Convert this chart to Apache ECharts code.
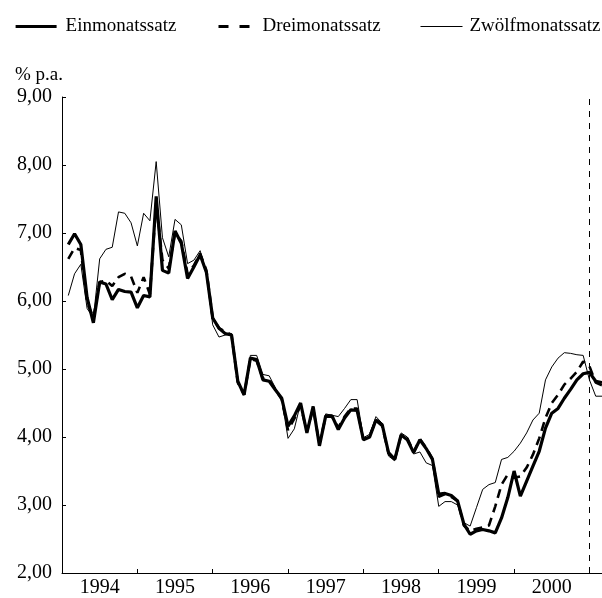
<!DOCTYPE html>
<html>
<head>
<meta charset="utf-8">
<script src="https://cdn.jsdelivr.net/npm/echarts@6/dist/echarts.min.js"></script>
<style>
  html, body { margin: 0; padding: 0; background: #fff; }
  #chart { width: 602px; height: 598px; }
</style>
</head>
<body>
<div id="chart"></div>
<script>
var chartDom = document.getElementById('chart');
var myChart = echarts.init(chartDom);
var option;

// monthly values, Jan 1994 .. Feb 2001
var years = ['1994', '1995', '1996', '1997', '1998', '1999', '2000'];
var einmonat = [
  6.83, 6.99, 6.83, 6.05, 5.68, 6.28, 6.25, 6.02, 6.17, 6.14, 6.13, 5.90,
  6.08, 6.06, 7.54, 6.45, 6.41, 7.03, 6.85, 6.33, 6.50, 6.68, 6.42, 5.75,
  5.60, 5.52, 5.50, 4.82, 4.62, 5.16, 5.14, 4.84, 4.82, 4.69, 4.57, 4.16,
  4.31, 4.50, 4.06, 4.45, 3.87, 4.31, 4.31, 4.11, 4.28, 4.40, 4.39, 3.96,
  4.00, 4.25, 4.18, 3.77, 3.67, 4.03, 3.96, 3.77, 3.96, 3.83, 3.67, 3.16,
  3.17, 3.14, 3.06, 2.72, 2.57, 2.62, 2.64, 2.62, 2.59, 2.81, 3.11, 3.50,
  3.13, 3.35, 3.57, 3.79, 4.13, 4.35, 4.42, 4.57, 4.70, 4.84, 4.93, 4.95,
  4.82, 4.80
];
var dreimonat = [
  6.62, 6.78, 6.75, 5.98, 5.75, 6.28, 6.30, 6.22, 6.35, 6.40, 6.36, 6.12,
  6.35, 6.10, 7.45, 6.60, 6.48, 7.00, 6.88, 6.40, 6.52, 6.70, 6.45, 5.75,
  5.60, 5.55, 5.50, 4.80, 4.62, 5.15, 5.12, 4.86, 4.84, 4.70, 4.55, 4.10,
  4.27, 4.46, 4.08, 4.42, 3.90, 4.30, 4.30, 4.14, 4.30, 4.42, 4.42, 3.96,
  4.02, 4.24, 4.16, 3.76, 3.67, 4.02, 3.98, 3.78, 3.97, 3.84, 3.68, 3.12,
  3.16, 3.12, 3.06, 2.70, 2.62, 2.65, 2.67, 2.70, 2.98, 3.30, 3.45, 3.40,
  3.42, 3.55, 3.74, 3.98, 4.28, 4.50, 4.62, 4.77, 4.86, 4.96, 5.11, 5.04,
  4.80, 4.76
];
var zwoelfmonat = [
  6.08, 6.40, 6.54, 5.89, 5.75, 6.62, 6.76, 6.79, 7.31, 7.29, 7.15, 6.81,
  7.29, 7.18, 8.05, 6.93, 6.65, 7.20, 7.12, 6.55, 6.60, 6.74, 6.42, 5.65,
  5.47, 5.50, 5.52, 4.80, 4.65, 5.20, 5.20, 4.92, 4.90, 4.72, 4.55, 3.98,
  4.12, 4.50, 4.10, 4.45, 3.90, 4.34, 4.32, 4.30, 4.42, 4.55, 4.55, 3.99,
  4.04, 4.30, 4.20, 3.72, 3.65, 4.06, 4.00, 3.75, 3.78, 3.62, 3.58, 2.98,
  3.05, 3.05, 3.00, 2.74, 2.69, 2.96, 3.23, 3.30, 3.33, 3.67, 3.70, 3.79,
  3.91, 4.06, 4.25, 4.35, 4.84, 5.03, 5.16, 5.24, 5.23, 5.21, 5.20, 4.84,
  4.60, 4.60
];
var markMonth = 84; // Januar 2001

function toPoints(arr) {
  return arr.map(function (v, i) { return [i + 1, v]; });
}
var labelPos = years.map(function (y, i) { return i * 12 + 6; });
var tickPos = years.map(function (y, i) { return (i + 1) * 12; });

var font = 'Liberation Serif, Times New Roman, serif';
var noSymbol = { opacity: 0, borderWidth: 0 };

option = {
  animation: false,
  backgroundColor: '#fff',
  textStyle: { fontFamily: font, color: '#000' },
  legend: [
    {
      left: 9, top: 12, itemWidth: 41, itemHeight: 14,
      data: ['Einmonatssatz'],
      itemStyle: noSymbol,
      lineStyle: { color: '#000', width: 3.2, type: 'solid' },
      textStyle: { fontFamily: font, fontSize: 19, color: '#000', padding: [0, 0, 0, 4] }
    },
    {
      left: 212, top: 12, itemWidth: 31, itemHeight: 14,
      data: ['Dreimonatssatz'],
      itemStyle: noSymbol,
      lineStyle: { color: '#000', width: 3, type: [10, 11] },
      textStyle: { fontFamily: font, fontSize: 19, color: '#000', padding: [0, 0, 0, 8] }
    },
    {
      left: 415, top: 12, itemWidth: 42, itemHeight: 14,
      data: ['Zwölfmonatssatz'],
      itemStyle: noSymbol,
      lineStyle: { color: '#000', width: 1, type: 'solid' },
      textStyle: { fontFamily: font, fontSize: 19, color: '#000', padding: [0, 0, 0, 2] }
    }
  ],
  grid: { left: 62, right: 0, top: 97, bottom: 23, containLabel: false },
  xAxis: {
    type: 'value',
    min: 0,
    max: 86,
    axisLine: { show: true, lineStyle: { color: '#000', width: 1 } },
    splitLine: { show: false },
    axisTick: {
      show: true, inside: true, length: 4,
      customValues: tickPos,
      lineStyle: { color: '#000' }
    },
    axisLabel: {
      customValues: labelPos,
      formatter: function (v) { return years[(v - 6) / 12]; },
      fontFamily: font, fontSize: 20, color: '#000', margin: 5
    }
  },
  yAxis: {
    type: 'value',
    min: 2,
    max: 9,
    interval: 1,
    name: '% p.a.',
    nameLocation: 'end',
    nameGap: 12,
    nameTextStyle: { fontFamily: font, fontSize: 19, color: '#000', align: 'left', padding: [0, 0, 0, -47] },
    axisLine: { show: true, lineStyle: { color: '#000', width: 1 } },
    splitLine: { show: false },
    axisTick: { show: true, inside: true, length: 4, lineStyle: { color: '#000' } },
    axisLabel: {
      formatter: function (v) { return v.toFixed(2).replace('.', ','); },
      fontFamily: font, fontSize: 20, color: '#000', margin: 10
    }
  },
  series: [
    {
      name: 'Einmonatssatz',
      type: 'line',
      symbol: 'none',
      lineStyle: { color: '#000', width: 3.2 },
      itemStyle: { color: '#000' },
      z: 3,
      data: toPoints(einmonat),
      markLine: {
        silent: true,
        symbol: 'none',
        label: { show: false },
        lineStyle: { color: '#000', width: 1, type: [6, 6] },
        data: [{ xAxis: markMonth }]
      }
    },
    {
      name: 'Dreimonatssatz',
      type: 'line',
      symbol: 'none',
      lineStyle: { color: '#000', width: 2.6, type: [9, 6] },
      itemStyle: { color: '#000' },
      z: 2,
      data: toPoints(dreimonat)
    },
    {
      name: 'Zwölfmonatssatz',
      type: 'line',
      symbol: 'none',
      lineStyle: { color: '#000', width: 1 },
      itemStyle: { color: '#000' },
      z: 1,
      data: toPoints(zwoelfmonat)
    }
  ]
};
option && myChart.setOption(option);
</script>
</body>
</html>
